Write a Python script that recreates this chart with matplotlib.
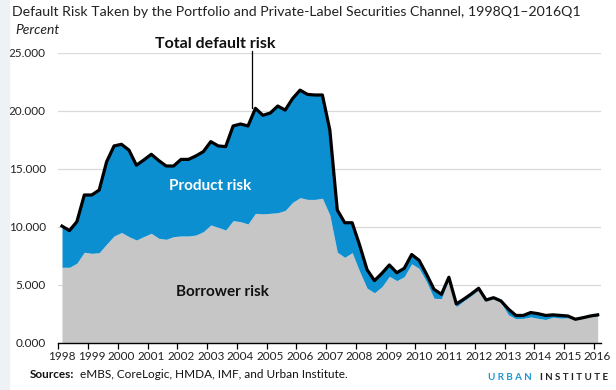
import numpy as np
import matplotlib
matplotlib.use("Agg")
import matplotlib.pyplot as plt
from matplotlib.patches import Rectangle

plt.rcParams['font.family'] = ['Lato', 'DejaVu Sans']

# quarterly, 1998Q1 .. 2016Q1 (73 quarters)
years = list(range(1998, 2017))
total_risk = [10.05, 9.66, 10.43, 12.73, 12.73, 13.16, 15.6, 16.96, 17.1, 16.6,
              15.3, 15.75, 16.24, 15.7, 15.23, 15.23, 15.8, 15.8, 16.1, 16.47,
              17.33, 16.96, 16.9, 18.68, 18.85, 18.68, 20.2, 19.6, 19.8, 20.4,
              20.05, 21.05, 21.77, 21.4, 21.35, 21.35, 18.33, 11.44, 10.34, 10.34,
              8.42, 6.3, 5.35, 5.98, 6.7, 6.03, 6.41, 7.6, 7.1, 5.9,
              4.6, 4.17, 5.64, 3.34, 3.75, 4.2, 4.69, 3.68, 3.88, 3.6,
              2.9, 2.35, 2.35, 2.6, 2.5, 2.35, 2.4, 2.35, 2.3, 2.02,
              2.15, 2.3, 2.4]
borrower_risk = [6.5, 6.5, 6.85, 7.8, 7.7, 7.76, 8.5, 9.2, 9.5, 9.14,
                 8.85, 9.15, 9.43, 9.0, 8.91, 9.14, 9.2, 9.2, 9.28, 9.57,
                 10.15, 9.94, 9.71, 10.52, 10.43, 10.23, 11.15, 11.1, 11.15, 11.2,
                 11.4, 12.1, 12.5, 12.35, 12.35, 12.45, 11.0, 7.8, 7.36, 7.76,
                 6.15, 4.7, 4.3, 4.83, 5.72, 5.35, 5.69, 6.8, 6.4, 5.26,
                 3.83, 3.8, 5.5, 3.1, 3.6, 4.05, 4.55, 3.6, 3.8, 3.45,
                 2.4, 2.07, 2.1, 2.22, 2.1, 2.0, 2.2, 2.12, 2.15, 1.96,
                 2.1, 2.22, 2.3]

total = np.array(total_risk)
borrower = np.array(borrower_risk)
q = np.arange(len(total))

blue = '#0c8fd0'
gray = '#c6c6c6'

fig = plt.figure(figsize=(6.16, 3.9), dpi=100)
fig.patches.append(Rectangle((0, 0), 0.014, 1, transform=fig.transFigure,
                             color='#eef1f5', zorder=0))
ax = fig.add_axes([0.0946, 0.1213, 0.8817, 0.7437])

ax.fill_between(q, 0, borrower, color=gray, lw=0, zorder=2)
ax.fill_between(q, borrower, total, color=blue, lw=0, zorder=2)
ax.plot(q, total, color='black', lw=2.3, solid_joinstyle='round', zorder=3)

ax.set_xlim(-0.5, len(q) - 0.5)
ax.set_ylim(0, 25)
ax.set_yticks(np.arange(0, 26, 5))
ax.set_yticklabels(['%.3f' % v for v in np.arange(0, 26, 5)])
ax.yaxis.grid(True, color='#d9d9d9', lw=0.9)
ax.set_axisbelow(True)
ax.tick_params(axis='y', length=0, labelsize=8.5, pad=9, colors='#222222')

# ticks between categories, year labels on Q1
ax.set_xticks(np.arange(-0.5, len(q) - 1, 4))
ax.set_xticklabels([])
ax.set_xticks(np.arange(0, len(q), 4), minor=True)
ax.set_xticklabels([str(y) for y in years], minor=True)
ax.tick_params(axis='x', which='major', length=4, width=0.9, direction='out')
ax.tick_params(axis='x', which='minor', length=0, labelsize=8.5, pad=6, colors='#222222')

for s in ['top', 'right', 'left']:
    ax.spines[s].set_visible(False)
ax.spines['bottom'].set_linewidth(1.0)
ax.spines['bottom'].set_zorder(4)

# labels
ax.text(19.9, 13.5, 'Product risk', color='white', fontsize=11, fontweight='bold',
        ha='center', va='center', zorder=5)
ax.text(21.6, 4.33, 'Borrower risk', color='#111111', fontsize=11, fontweight='bold',
        ha='center', va='center', zorder=5)
ax.plot([25.6, 25.6], [25.1, 20.2], color='black', lw=0.9, zorder=5, clip_on=False)
fig.text(215 / 616, 1 - 43.5 / 390, 'Total default risk', fontsize=11.5, fontweight='bold',
         ha='center', va='center', color='#111111')

fig.text(12 / 616, 1 - 12 / 390,
         'Default Risk Taken by the Portfolio and Private-Label Securities Channel, 1998Q1\u20132016Q1',
         fontsize=10.2, ha='left', va='center', color='#222222')
fig.text(15 / 616, 1 - 30 / 390, 'Percent', fontsize=10, style='italic',
         ha='left', va='center', color='#222222')

fig.text(30 / 616, 1 - 375 / 390, 'Sources:', fontsize=8.5, fontweight='bold',
         ha='left', va='center', color='#111111')
fig.text(80 / 616, 1 - 375 / 390, 'eMBS, CoreLogic, HMDA, IMF, and Urban Institute.',
         fontsize=8.5, ha='left', va='center', color='#111111')
fig.text(488 / 616, 1 - 378 / 390, 'U R B A N', fontsize=7, fontweight='bold',
         ha='left', va='center', color='#1696d2')
fig.text(608 / 616, 1 - 378 / 390, 'I N S T I T U T E', fontsize=7, fontweight='bold',
         ha='right', va='center', color='#222222')

fig.savefig('out.png', dpi=100)
